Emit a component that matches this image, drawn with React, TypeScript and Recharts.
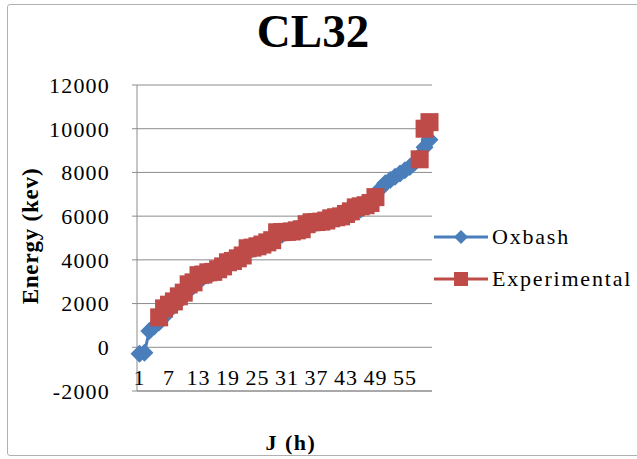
import {
  CartesianGrid,
  Line,
  LineChart,
  XAxis,
  YAxis,
} from "recharts";

const levels = Array.from({ length: 60 }, (_, i) => i + 1);

const oxbash = [
  -300, -250, 750, 950, 1150, 1400, 1700, 1900, 2100, 2350,
  2600, 2800, 3000, 3200, 3300, 3400, 3500, 3650, 3800, 3950,
  4100, 4250, 4400, 4500, 4600, 4700, 4850, 4950, 5050, 5150,
  5250, 5300, 5400, 5500, 5550, 5650, 5700, 5750, 5800, 5850,
  5900, 5950, 6000, 6100, 6200, 6300, 6500, 6700, 6950, 7250,
  7500, 7650, 7800, 7950, 8100, 8250, 8450, 8750, 9150, 9500,
];

const experimental: (number | null)[] = [
  null, null, null, null, 1370, 1780, 1950, 2100, 2330, 2500,
  2880, 2970, 3300, 3330, 3430, 3450, 3570, 3700, 3890, 3950,
  4070, 4200, 4530, 4560, 4620, 4700, 4800, 4900, 5260, 5270,
  5280, 5300, 5350, 5400, 5630, 5720, 5730, 5750, 5800, 5900,
  5950, 5990, 6100, 6220, 6400, 6450, 6500, 6600, 6870, null,
  null, null, null, null, null, null, null, 8600, 10000, 10300,
];

const yTicks = [-2000, 0, 2000, 4000, 6000, 8000, 10000, 12000];

const data = levels.map((j, i) => ({
  j,
  oxbash: oxbash[i],
  experimental: experimental[i],
}));

const BLUE = "#4A7EBB";
const RED = "#BE4B48";
const GRID = "#8c8c8c";
const FONT = "'Liberation Serif', 'Times New Roman', serif";

function Diamond(props: any) {
  const { cx, cy, size = 9, color = BLUE } = props;
  if (cx == null || cy == null) return <g />;
  const r = size;
  return (
    <path
      d={`M${cx},${cy - r}L${cx + r},${cy}L${cx},${cy + r}L${cx - r},${cy}Z`}
      fill={color}
      stroke="none"
    />
  );
}

function Square(props: any) {
  const { cx, cy, size = 9, color = RED } = props;
  if (cx == null || cy == null) return <g />;
  const r = size;
  return (
    <rect x={cx - r} y={cy - r} width={r * 2} height={r * 2} fill={color} stroke="none" />
  );
}

function XTick({ x, y, payload }: any) {
  return (
    <text
      x={x}
      y={y - 8}
      textAnchor="middle"
      fontFamily={FONT}
      fontSize={22}
      fill="#000"
      letterSpacing={1}
    >
      {payload.value}
    </text>
  );
}

function LegendBox() {
  const items = [
    { name: "Oxbash", color: BLUE, kind: "diamond" },
    { name: "Experimental", color: RED, kind: "square" },
  ];
  return (
    <div style={{ fontFamily: FONT, fontSize: 22, letterSpacing: 1.8 }}>
      {items.map((it) => (
        <div
          key={it.name}
          style={{ display: "flex", alignItems: "center", height: 42 }}
        >
          <svg width={58} height={20}>
            <line x1={2} y1={10} x2={56} y2={10} stroke={it.color} strokeWidth={3} />
            {it.kind === "diamond" ? (
              <Diamond cx={29} cy={10} size={7} color={it.color} />
            ) : (
              <Square cx={29} cy={10} size={7} color={it.color} />
            )}
          </svg>
          <span style={{ color: "#000", marginLeft: 2 }}>{it.name}</span>
        </div>
      ))}
    </div>
  );
}

export default function App() {
  return (
    <div
      style={{
        position: "absolute",
        left: 0,
        top: 0,
        width: 637,
        height: 459,
        background: "#fff",
        overflow: "hidden",
      }}
    >
      <div
        style={{
          position: "absolute",
          left: 7,
          top: 4,
          width: 660,
          height: 450,
          border: "1px solid #b0b0b0",
          borderRadius: 3,
        }}
      />
      <div
        style={{
          position: "absolute",
          left: 0,
          top: 6,
          width: 626,
          textAlign: "center",
          fontFamily: FONT,
          fontWeight: "bold",
          fontSize: 47,
          lineHeight: "50px",
        }}
      >
        CL32
      </div>
      <div style={{ position: "absolute", left: 432, top: 216 }}>
        <LegendBox />
      </div>
      <div style={{ position: "absolute", left: 0, top: 0 }}>
        <LineChart
          width={637}
          height={459}
          data={data}
          margin={{ top: 85, right: 205, bottom: 38, left: 0 }}
        >
          <CartesianGrid horizontal vertical={false} stroke={GRID} strokeWidth={1} />
          <XAxis
            dataKey="j"
            interval={5}
            height={30}
            padding={{ left: 2.5, right: 2.5 }}
            axisLine={{ stroke: GRID }}
            tickLine={false}
            tickSize={0}
            tick={<XTick />}
            label={{
              content: () => (
                <text
                  x={291}
                  y={450}
                  textAnchor="middle"
                  fontFamily={FONT}
                  fontWeight="bold"
                  fontSize={22}
                  letterSpacing={1.5}
                  fill="#000"
                >
                  J (h)
                </text>
              ),
            }}
          />
          <YAxis
            width={137}
            domain={[-2000, 12000]}
            ticks={yTicks}
            interval={0}
            axisLine={{ stroke: GRID }}
            tickLine={{ stroke: GRID }}
            tickSize={5}
            tickMargin={22}
            tick={{ fontFamily: FONT, fontSize: 22, fill: "#000", letterSpacing: 1.2 }}
            label={{
              content: () => (
                <text
                  x={0}
                  y={0}
                  transform="translate(38,236) rotate(-90)"
                  textAnchor="middle"
                  fontFamily={FONT}
                  fontWeight="bold"
                  fontSize={23}
                  letterSpacing={0.8}
                  fill="#000"
                >
                  Energy (kev)
                </text>
              ),
            }}
          />
          <Line
            dataKey="oxbash"
            name="Oxbash"
            stroke={BLUE}
            strokeWidth={3}
            dot={<Diamond />}
            activeDot={false}
            isAnimationActive={false}
          />
          <Line
            dataKey="experimental"
            name="Experimental"
            stroke={RED}
            strokeWidth={3}
            dot={<Square />}
            activeDot={false}
            isAnimationActive={false}
          />
        </LineChart>
      </div>
    </div>
  );
}
